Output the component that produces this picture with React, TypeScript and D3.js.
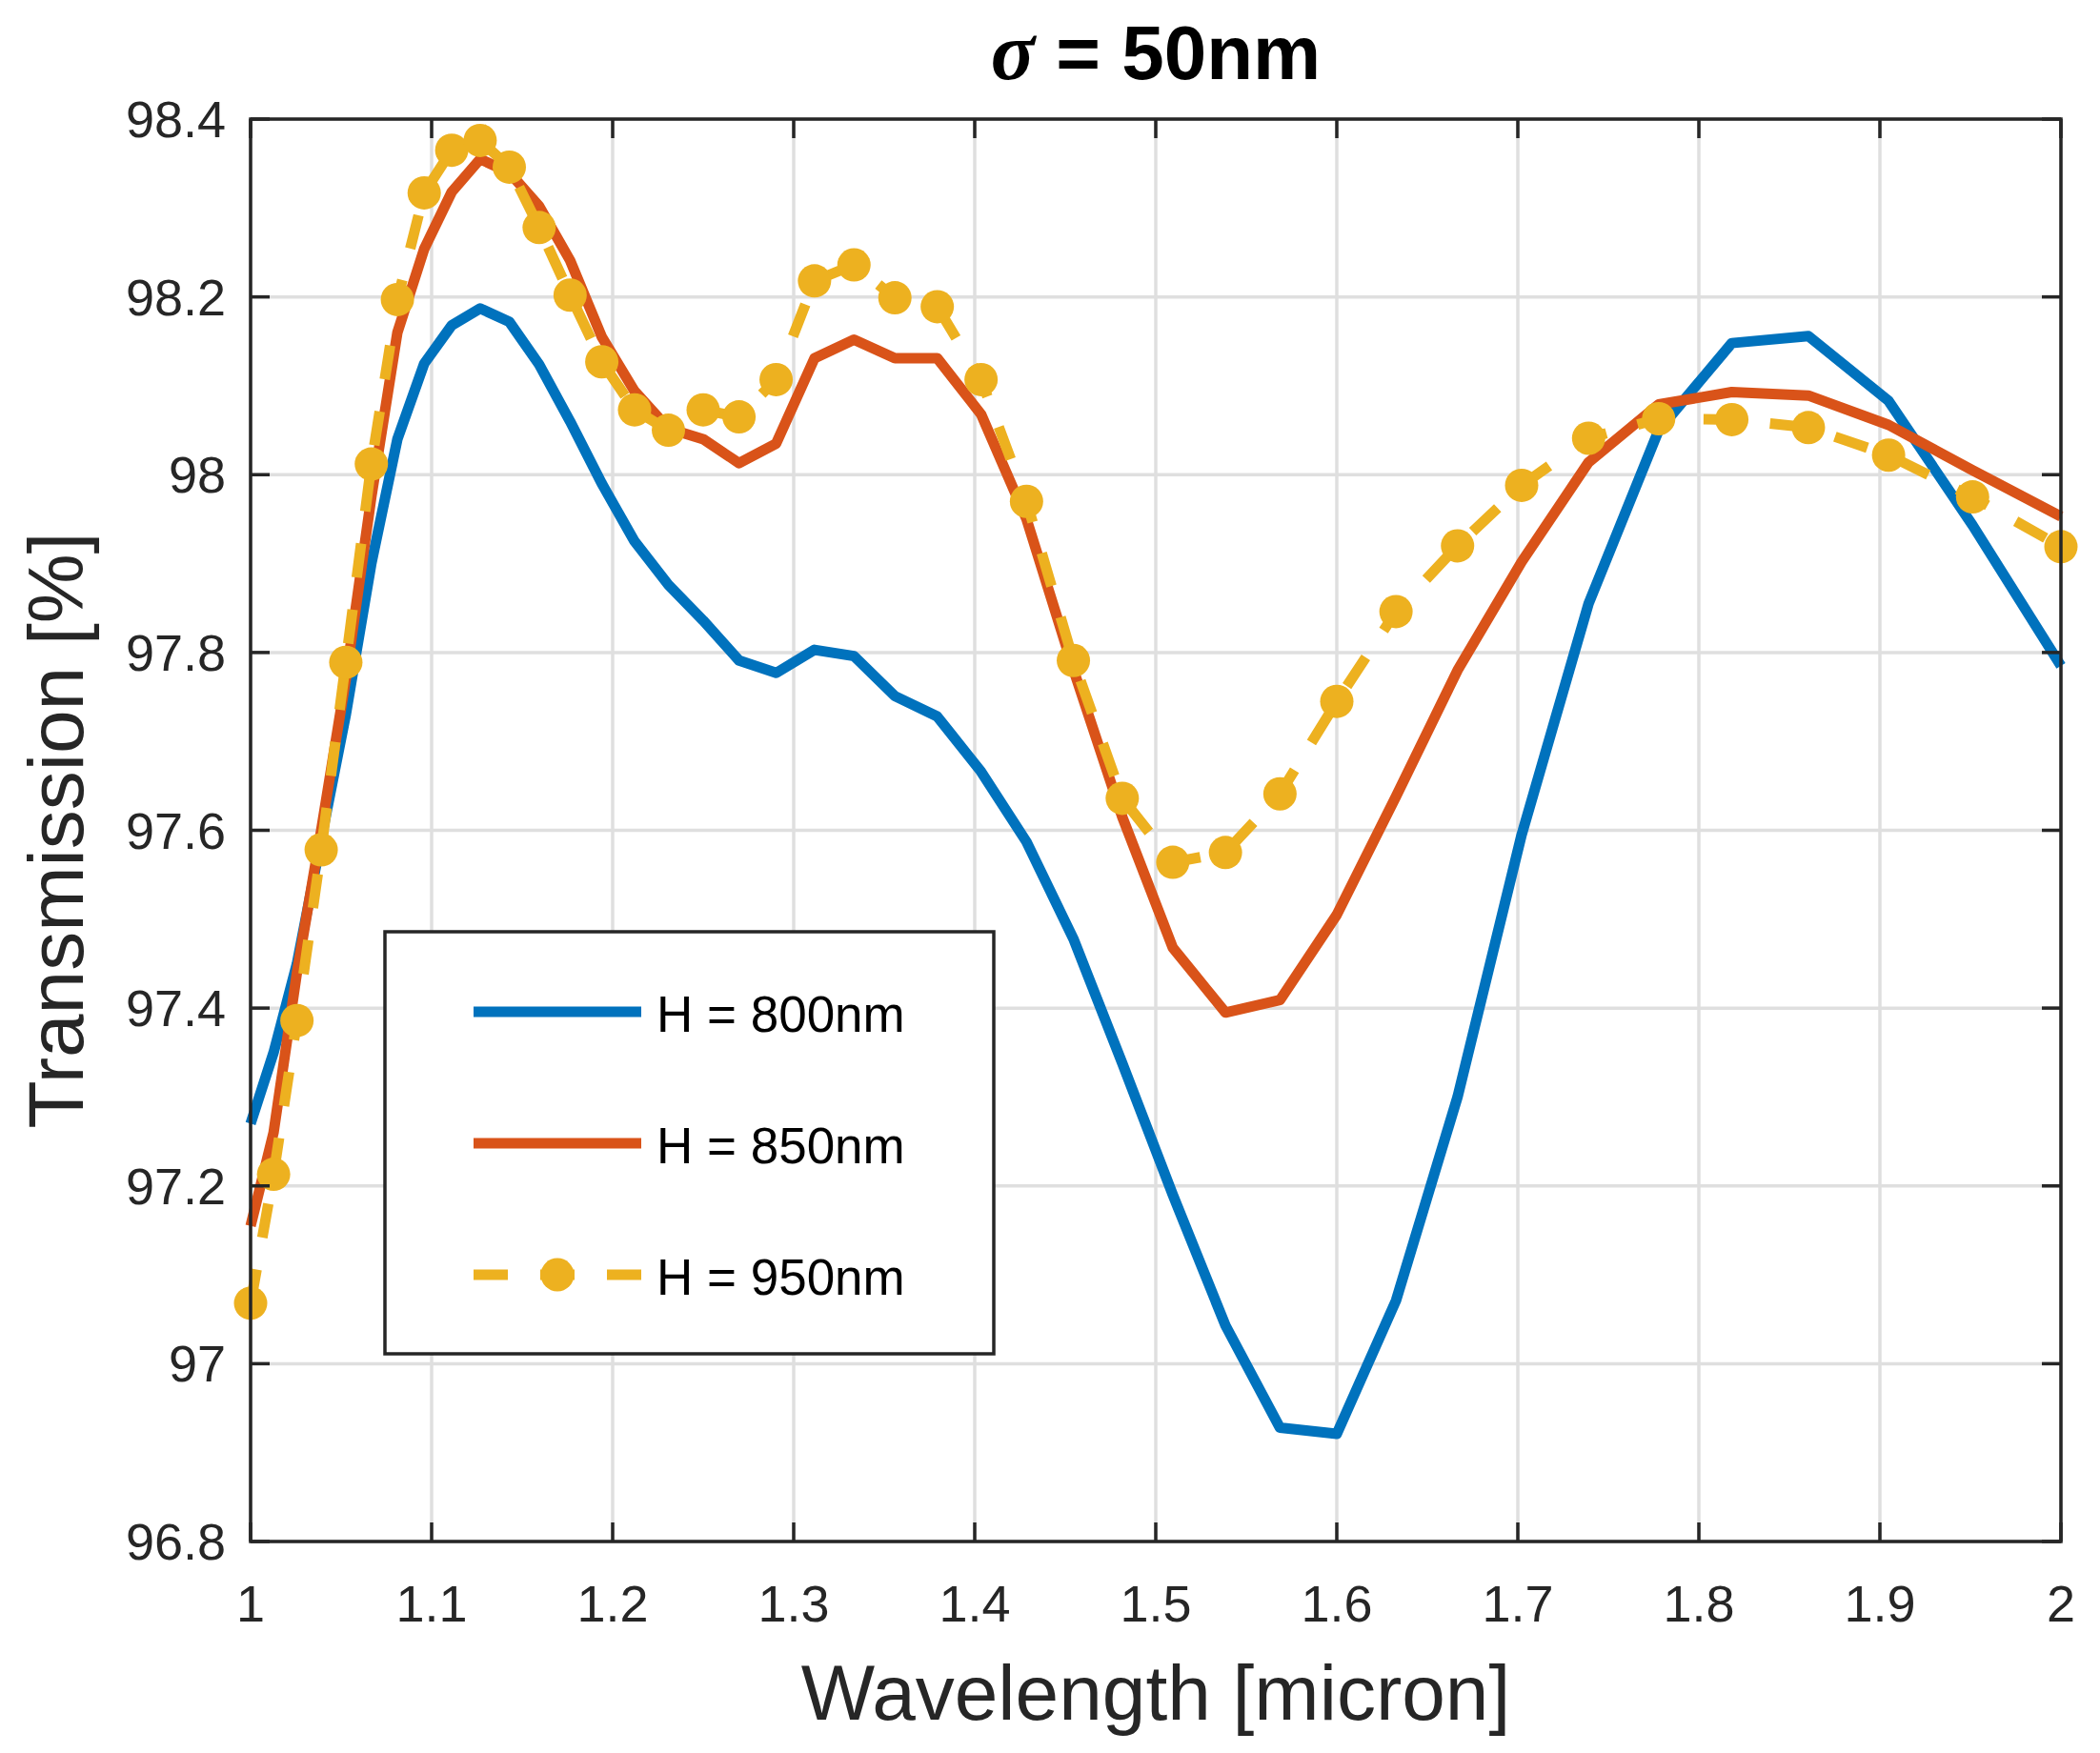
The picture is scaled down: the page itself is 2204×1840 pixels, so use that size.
import * as d3 from "d3";

// wavelength samples [micron], shared by all three runs
const wavelength = [
  1.0, 1.0127, 1.0256, 1.039, 1.0526, 1.0667, 1.0811, 1.0959, 1.1111, 1.1268, 1.1429, 1.1594, 1.1765, 1.194,
  1.2121, 1.2308, 1.25, 1.2698, 1.2903, 1.3115, 1.3333, 1.3559, 1.3793, 1.4035, 1.4286, 1.4545, 1.4815, 1.5094,
  1.5385, 1.5686, 1.6, 1.6327, 1.6667, 1.7021, 1.7391, 1.7778, 1.8182, 1.8605, 1.9048, 1.9512, 2.0
];

// transmission [%]
const h800 = [
  97.27, 97.35, 97.45, 97.59, 97.73, 97.9, 98.04, 98.125, 98.168, 98.187, 98.172, 98.124, 98.06, 97.99,
  97.925, 97.876, 97.836, 97.791, 97.777, 97.803, 97.796, 97.751, 97.728, 97.666, 97.587, 97.478, 97.338, 97.19,
  97.043, 96.928, 96.921, 97.071, 97.3, 97.595, 97.855, 98.05, 98.148, 98.156, 98.083, 97.943, 97.785
];
const h850 = [
  97.155, 97.26, 97.44, 97.6, 97.77, 97.975, 98.16, 98.254, 98.318, 98.355, 98.34, 98.302, 98.241, 98.155,
  98.094, 98.052, 98.04, 98.013, 98.035, 98.131, 98.152, 98.131, 98.131, 98.068, 97.95, 97.781, 97.615, 97.468,
  97.395, 97.409, 97.505, 97.638, 97.78, 97.902, 98.014, 98.079, 98.093, 98.089, 98.056, 98.005, 97.953
];
const h950 = [
  97.068, 97.213, 97.386, 97.578, 97.789, 98.012, 98.197, 98.317, 98.365, 98.376, 98.346, 98.278, 98.202, 98.127,
  98.073, 98.05, 98.073, 98.065, 98.107, 98.218, 98.236, 98.199, 98.189, 98.107, 97.97, 97.791, 97.636, 97.564,
  97.575, 97.641, 97.745, 97.846, 97.92, 97.988, 98.041, 98.063, 98.062, 98.053, 98.022, 97.975, 97.919
];

const xTicks = [1, 1.1, 1.2, 1.3, 1.4, 1.5, 1.6, 1.7, 1.8, 1.9, 2];
const yTicks = [96.8, 97, 97.2, 97.4, 97.6, 97.8, 98, 98.2, 98.4];
const seriesLabels = ["H = 800nm", "H = 850nm", "H = 950nm"];
const seriesColors = ["#0072bd", "#d95319", "#edb120"];

const width = 2204;
const height = 1840;
const margin = { top: 125, right: 41, bottom: 222, left: 263 };
const axisColor = "#262626";
const gridColor = "#dfdfdf";
const font = "'Liberation Sans', Arial, Helvetica, sans-serif";

type Point = { x: number; y: number };

export default function App() {
  const x = d3.scaleLinear([1, 2], [margin.left, width - margin.right]);
  const y = d3.scaleLinear([96.8, 98.4], [height - margin.bottom, margin.top]);
  const [x0, x1] = x.range();
  const [y0, y1] = y.range();
  const line = d3
    .line<Point>()
    .x((p) => x(p.x))
    .y((p) => y(p.y));
  const series = [h800, h850, h950].map((values) => values.map((v, i) => ({ x: wavelength[i], y: v })));
  const tick = 20;

  const legend = { x: 404, y: 978, w: 639, h: 443 };
  const legendRows = [1062, 1200, 1338];
  const sampleX0 = 497;
  const sampleX1 = 673;

  return (
    <svg
      width={width}
      height={height}
      viewBox={`0 0 ${width} ${height}`}
      style={{ position: "absolute", left: 0, top: 0, background: "#fff" }}
      fontFamily={font}
    >
      <rect x="0" y="0" width={width} height={height} fill="#fff" />
      {/* grid */}
      {xTicks.map((t) => (
        <line key={`gx${t}`} x1={x(t)} x2={x(t)} y1={y1} y2={y0} stroke={gridColor} strokeWidth="3.5" />
      ))}
      {yTicks.map((t) => (
        <line key={`gy${t}`} x1={x0} x2={x1} y1={y(t)} y2={y(t)} stroke={gridColor} strokeWidth="3.5" />
      ))}

      {/* data */}
      <path d={line(series[0]) ?? undefined} fill="none" stroke={seriesColors[0]} strokeWidth="11" strokeLinejoin="round" />
      <path d={line(series[1]) ?? undefined} fill="none" stroke={seriesColors[1]} strokeWidth="11" strokeLinejoin="round" />
      <path
        d={line(series[2]) ?? undefined}
        fill="none"
        stroke={seriesColors[2]}
        strokeWidth="11"
        strokeDasharray="36 34"
        strokeLinejoin="round"
      />
      {series[2].map((p) => (
        <circle key={p.x} cx={x(p.x)} cy={y(p.y)} r="17.5" fill={seriesColors[2]} />
      ))}

      {/* axes box and ticks */}
      <rect x={x0} y={y1} width={x1 - x0} height={y0 - y1} fill="none" stroke={axisColor} strokeWidth="3.5" />
      {xTicks.map((t) => (
        <g key={`tx${t}`} stroke={axisColor} strokeWidth="3.5">
          <line x1={x(t)} x2={x(t)} y1={y0} y2={y0 - tick} />
          <line x1={x(t)} x2={x(t)} y1={y1} y2={y1 + tick} />
        </g>
      ))}
      {yTicks.map((t) => (
        <g key={`ty${t}`} stroke={axisColor} strokeWidth="3.5">
          <line x1={x0} x2={x0 + tick} y1={y(t)} y2={y(t)} />
          <line x1={x1} x2={x1 - tick} y1={y(t)} y2={y(t)} />
        </g>
      ))}
      {xTicks.map((t) => (
        <text key={`lx${t}`} x={x(t)} y={1702} textAnchor="middle" fontSize="54" fill={axisColor}>
          {d3.format("~g")(t)}
        </text>
      ))}
      {yTicks.map((t) => (
        <text key={`ly${t}`} x={x0 - 26} y={y(t) + 19} textAnchor="end" fontSize="54" fill={axisColor}>
          {d3.format("~g")(t)}
        </text>
      ))}

      {/* labels */}
      <text x={(x0 + x1) / 2} y={1805} textAnchor="middle" fontSize="82" fill={axisColor}>
        Wavelength [micron]
      </text>
      <text
        transform={`translate(87, ${(y0 + y1) / 2}) rotate(-90)`}
        textAnchor="middle"
        fontSize="82"
        fill={axisColor}
      >
        Transmission [%]
      </text>
      <text x={(x0 + x1) / 2} y={83} textAnchor="middle" fontSize="80" fontWeight="bold" fill="#000">
        <tspan fontFamily="'Liberation Serif', 'Times New Roman', serif" fontStyle="italic" fontSize="86">
          σ
        </tspan>
        {" = 50nm"}
      </text>

      {/* legend */}
      <rect x={legend.x} y={legend.y} width={legend.w} height={legend.h} fill="#fff" stroke={axisColor} strokeWidth="3.5" />
      {seriesLabels.map((label, i) => (
        <g key={label}>
          <line
            x1={sampleX0}
            x2={sampleX1}
            y1={legendRows[i]}
            y2={legendRows[i]}
            stroke={seriesColors[i]}
            strokeWidth="11"
            strokeDasharray={i === 2 ? "36 34" : undefined}
          />
          {i === 2 && <circle cx={(sampleX0 + sampleX1) / 2} cy={legendRows[i]} r="17.5" fill={seriesColors[i]} />}
          <text x={689} y={legendRows[i] + 21} fontSize="53" fill="#000">
            {label}
          </text>
        </g>
      ))}
    </svg>
  );
}
